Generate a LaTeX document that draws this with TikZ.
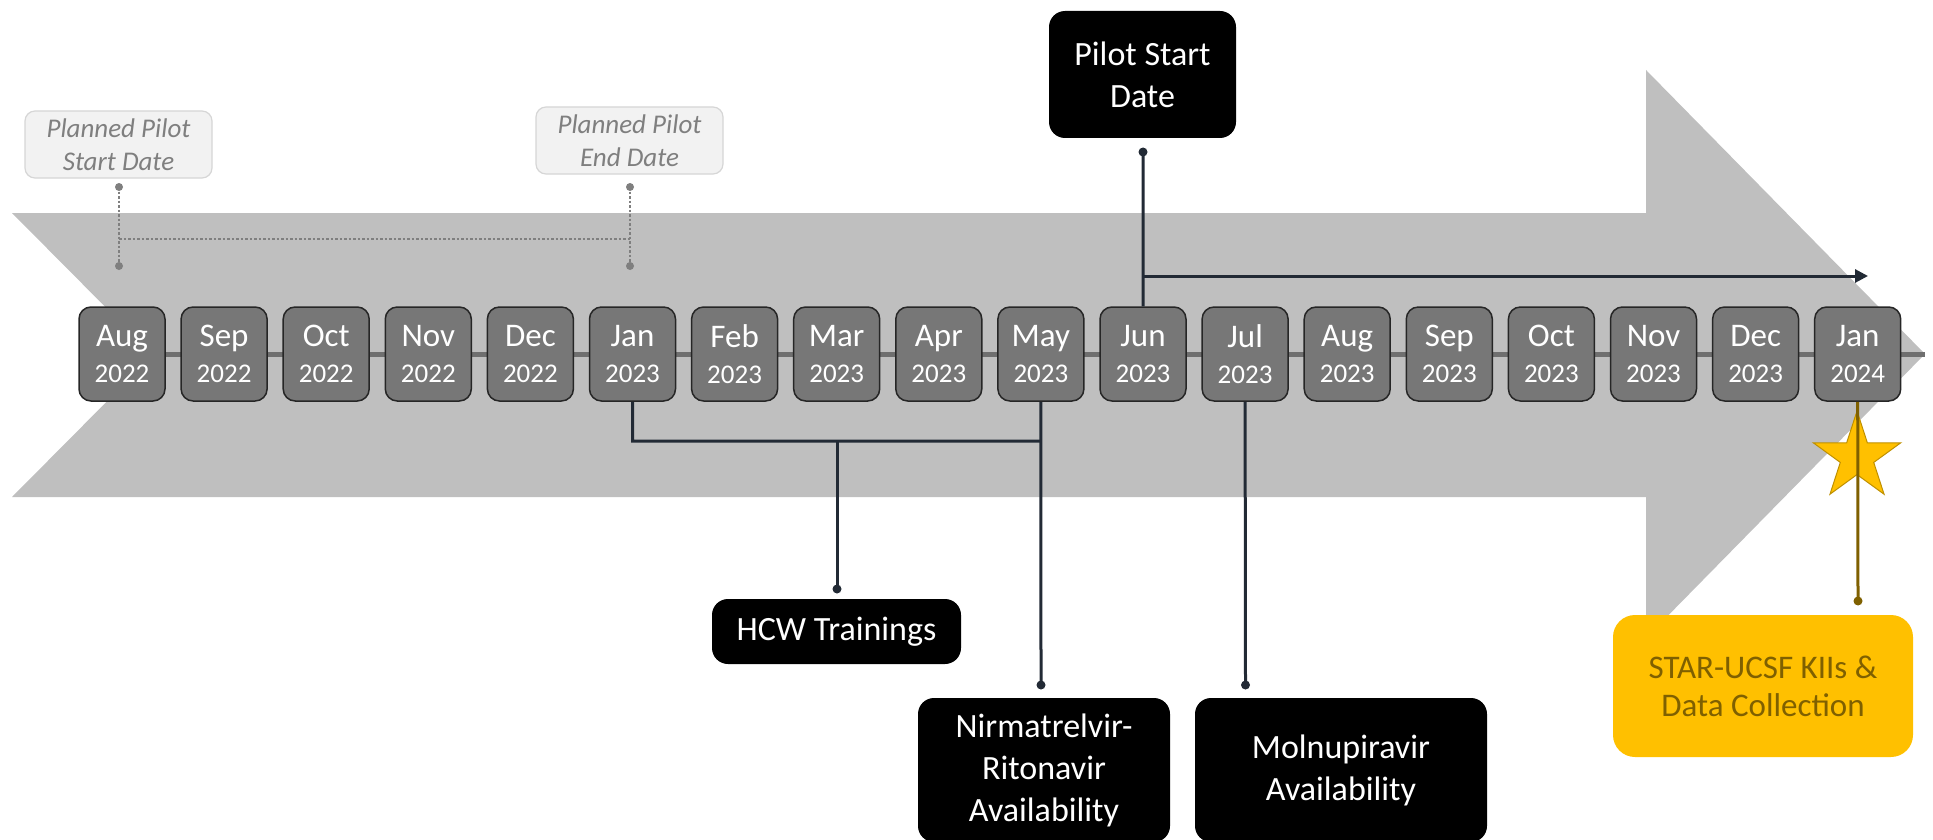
\documentclass[tikz,border=0pt]{standalone}
\usepackage{fontspec}
\setmainfont{Carlito}
\usetikzlibrary{arrows.meta,shapes.geometric}

\definecolor{arrowgrey}{HTML}{BFBFBF}
\definecolor{railgrey}{HTML}{6F6F6F}
\definecolor{monthfill}{HTML}{777777}
\definecolor{monthedge}{HTML}{262626}
\definecolor{linkdark}{HTML}{222A35}
\definecolor{planfill}{HTML}{F2F2F2}
\definecolor{planedge}{HTML}{D6D6D6}
\definecolor{plantext}{HTML}{7F7F7F}
\definecolor{gold}{HTML}{FFC000}
\definecolor{goldedge}{HTML}{BF9000}
\definecolor{goldtext}{HTML}{7F6000}

\tikzset{
  monthbox/.style={draw=monthedge, line width=1.5pt, fill=monthfill, rounded corners=12pt,
    minimum width=86pt, minimum height=94pt, inner sep=0pt, text=white, align=center,
    font=\fontsize{27}{36}\selectfont},
  eventbox/.style={fill=black, rounded corners=16pt, inner sep=0pt, text=white, align=center,
    font=\fontsize{34}{42}\selectfont},
  planbox/.style={draw=planedge, line width=1.2pt, fill=planfill, rounded corners=10pt,
    minimum width=187pt, minimum height=67pt, inner sep=0pt, text=plantext, align=center,
    font=\fontsize{27}{33}\selectfont\itshape},
  goldbox/.style={fill=gold, rounded corners=22pt, minimum width=300pt, minimum height=142pt,
    inner sep=0pt, text=goldtext, align=center, font=\fontsize{33}{38}\selectfont},
  link/.style={draw=linkdark, line width=3pt},
  planlink/.style={draw=plantext, line width=2.5pt, dash pattern=on 2.5pt off 2pt},
}

\begin{document}
\begin{tikzpicture}[x=1pt, y=-1pt]
\useasboundingbox (0,0) rectangle (1933,840);

% big background arrow
\fill[arrowgrey] (12,213) -- (1646,213) -- (1646,70) -- (1925,354) -- (1646,638)
  -- (1646,497) -- (12,497) -- (153,355) -- cycle;

% timeline rail
\coordinate (railtip) at (1925,354);
\draw[railgrey, line width=5pt] (122,354) -- (railtip);

% month boxes
\foreach \mo/\yr [count=\i from 0] in {Aug/2022,Sep/2022,Oct/2022,Nov/2022,Dec/2022,
    Jan/2023,Feb/2023,Mar/2023,Apr/2023,May/2023,Jun/2023,Jul/2023,Aug/2023,Sep/2023,
    Oct/2023,Nov/2023,Dec/2023,Jan/2024}
  \node[monthbox] (m\i) at ({122+102.1*\i},354) {{\fontsize{33}{36}\selectfont \mo}\\\yr};

% planned pilot window
\node[planbox] (pstart) at (118.5,144.5) {Planned Pilot\\Start Date};
\node[planbox] (pend) at (629.5,140.5) {Planned Pilot\\End Date};
\coordinate (psa) at (119,187);
\coordinate (psb) at (119,266);
\coordinate (psm) at (119,239);
\coordinate (pea) at (630,187);
\coordinate (peb) at (630,266);
\coordinate (pem) at (630,239);
\draw[planlink] (psa) -- (psb);
\draw[planlink] (pea) -- (peb);
\draw[planlink] (psm) -- (pem);
\foreach \c in {psa,psb,pea,peb} \fill[plantext] (\c) circle (4pt);

% actual pilot start
\node[eventbox, minimum width=187pt, minimum height=127pt] (pilot) at (1142.5,74.5) {Pilot Start\\Date};
\coordinate (pdot) at (1143,152);
\coordinate (pfork) at (1143,276);
\coordinate (parrow) at (1868,276);
\draw[link] (pdot) -- (m10.north);
\draw[link, -{Triangle[length=13pt, width=13pt]}] (pfork) -- (parrow);
\fill[linkdark] (pdot) circle (4.5pt);

% trainings and drug availability
\node[eventbox, minimum width=249pt, minimum height=65pt] (hcw) at (836.5,631.5) {HCW Trainings};
\node[eventbox, minimum width=252pt, minimum height=144pt] (nir) at (1044,770) {Nirmatrelvir-\\Ritonavir\\Availability};
\node[eventbox, minimum width=292pt, minimum height=144pt] (mol) at (1341,770) {Molnupiravir\\Availability};
\coordinate (jbend) at (632.5,441);
\coordinate (mbend) at (1041,441);
\coordinate (hfork) at (837,441);
\coordinate (hdot) at (837,589);
\coordinate (ndot) at (1041,685);
\coordinate (mdot) at (1245.5,685);
\draw[link] (m5.south) -- (jbend) -- (mbend);
\draw[link] (m9.south) -- (ndot);
\draw[link] (hfork) -- (hdot);
\draw[link] (m11.south) -- (mdot);
\foreach \c in {hdot,ndot,mdot} \fill[linkdark] (\c) circle (4.5pt);

% data collection milestone
\node[star, star points=5, star point ratio=2.618, minimum size=92pt, inner sep=0pt,
  fill=gold, draw=goldedge, line width=1pt] (goal) at (1857,457) {};
\node[goldbox] (kii) at (1763,686) {STAR-UCSF KIIs \&\\Data Collection};
\coordinate (kdot) at (1858,601);
\draw[goldtext, line width=3pt] (m17.south) -- (kdot);
\fill[goldtext] (kdot) circle (4.5pt);

\end{tikzpicture}
\end{document}
